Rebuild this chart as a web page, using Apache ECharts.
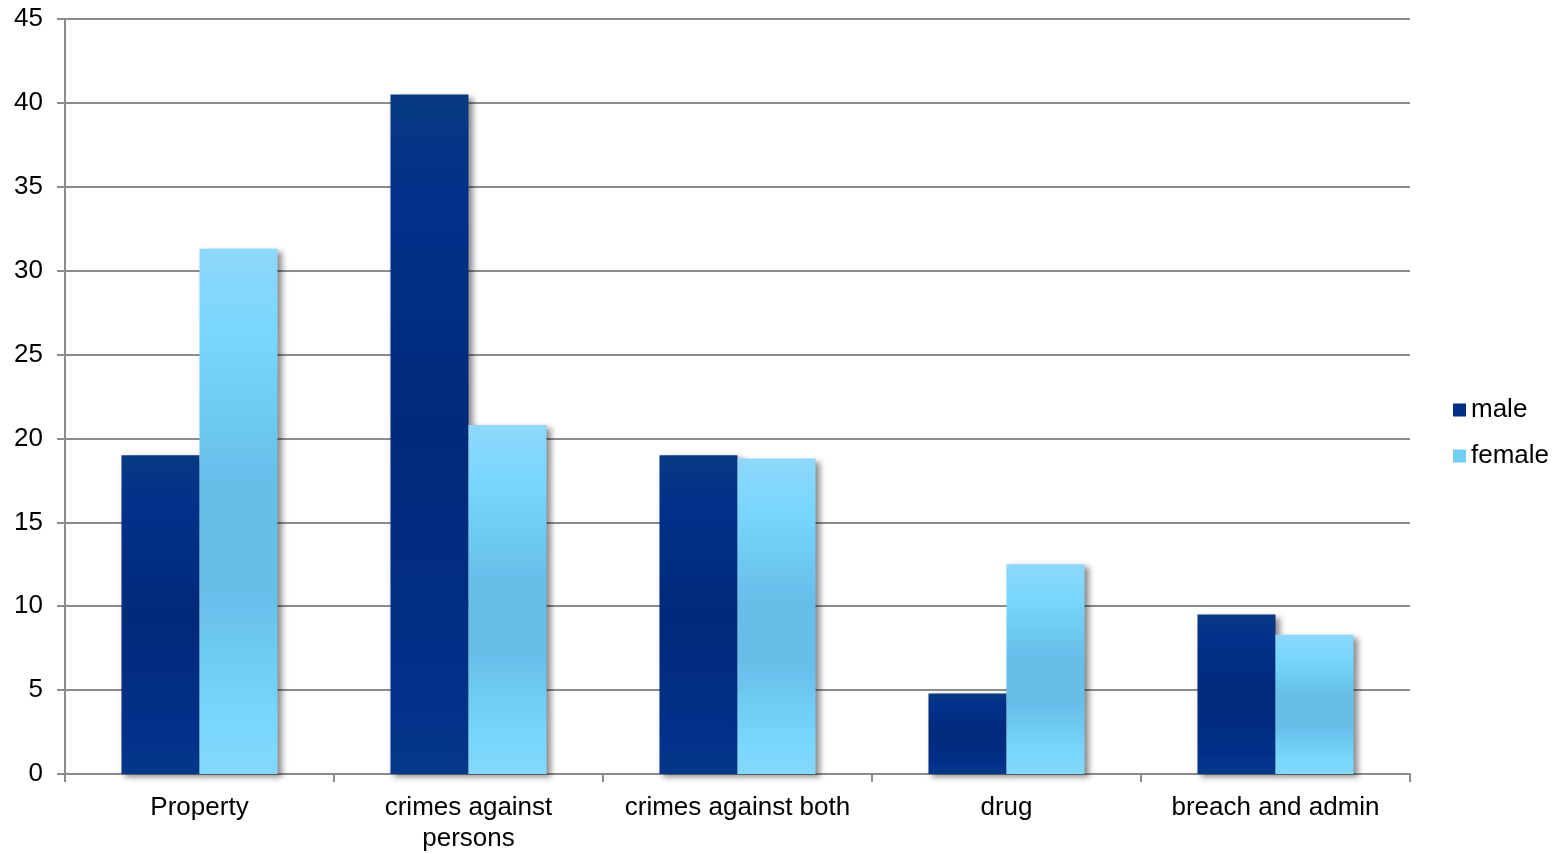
<!DOCTYPE html>
<html>
<head>
<meta charset="utf-8">
<script src="https://cdn.jsdelivr.net/npm/echarts@6/dist/echarts.min.js"></script>
<style>
html,body{margin:0;padding:0;background:#fff;overflow:hidden;}
#chart{width:1558px;height:854px;}
</style>
</head>
<body>
<div id="chart"></div>
<script>
const categories = ['Property', 'crimes against\npersons', 'crimes against both', 'drug', 'breach and admin'];
const maleValues = [19, 40.5, 19, 4.8, 9.5];
const femaleValues = [31.3, 20.8, 18.8, 12.5, 8.3];
const yTicks = [0, 5, 10, 15, 20, 25, 30, 35, 40, 45];

const maleColor = {
  type: 'linear', x: 0, y: 0, x2: 0, y2: 1,
  colorStops: [
    {offset: 0, color: '#073a82'},
    {offset: 0.15, color: '#02318a'},
    {offset: 0.5, color: '#002a7a'},
    {offset: 0.85, color: '#022f88'},
    {offset: 1, color: '#04388c'}
  ]
};
const femaleColor = {
  type: 'linear', x: 0, y: 0, x2: 0, y2: 1,
  colorStops: [
    {offset: 0, color: '#8ed8fb'},
    {offset: 0.18, color: '#76d6fd'},
    {offset: 0.45, color: '#66bee9'},
    {offset: 0.65, color: '#66bee9'},
    {offset: 0.88, color: '#76d6fd'},
    {offset: 1, color: '#84d8fb'}
  ]
};

const chart = echarts.init(document.getElementById('chart'), null, {renderer: 'canvas', width: 1558, height: 854});
const fontFamily = '"Liberation Sans", Arial, sans-serif';
chart.setOption({
  animation: false,
  backgroundColor: '#ffffff',
  grid: {left: 65, right: 148, top: 19, bottom: 76, containLabel: false},
  legend: {
    orient: 'vertical',
    left: 1448, top: 392,
    itemWidth: 13, itemHeight: 13, itemGap: 20, itemStyle: {borderWidth: 0},
    icon: 'rect',
    textStyle: {fontFamily, fontSize: 26, color: '#000'},
    data: [
      {name: 'male', itemStyle: {color: '#002f86'}},
      {name: 'female', itemStyle: {color: '#72cff5'}}
    ]
  },
  xAxis: {
    type: 'category',
    data: categories,
    axisLine: {show: true, lineStyle: {color: '#8c8c8c', width: 2}},
    axisTick: {show: true, length: 8, alignWithLabel: false, lineStyle: {color: '#8c8c8c', width: 2}},
    axisLabel: {fontFamily, fontSize: 26, color: '#000', margin: 18, lineHeight: 31, interval: 0}
  },
  yAxis: {
    type: 'value',
    min: yTicks[0], max: yTicks[yTicks.length - 1], interval: 5,
    axisLine: {show: true, lineStyle: {color: '#8c8c8c', width: 2}},
    axisTick: {show: true, length: 8, lineStyle: {color: '#8c8c8c', width: 2}},
    axisLabel: {fontFamily, fontSize: 26, color: '#000', margin: 22},
    splitLine: {show: true, lineStyle: {color: '#8c8c8c', width: 2}}
  },
  series: [
    {
      name: 'male', type: 'bar', data: maleValues,
      barGap: '0%', barCategoryGap: '42%',
      itemStyle: {color: maleColor, shadowColor: 'rgba(0,0,0,0.45)', shadowBlur: 6, shadowOffsetX: 4, shadowOffsetY: 3}
    },
    {
      name: 'female', type: 'bar', data: femaleValues,
      barGap: '0%', barCategoryGap: '42%',
      itemStyle: {color: femaleColor, shadowColor: 'rgba(0,0,0,0.45)', shadowBlur: 6, shadowOffsetX: 4, shadowOffsetY: 3}
    }
  ]
});
</script>
</body>
</html>
